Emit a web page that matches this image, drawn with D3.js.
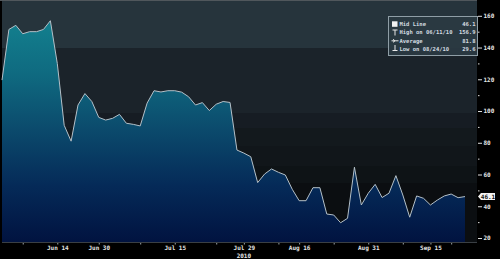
<!DOCTYPE html>
<head>
  <meta charset="utf-8" />
  <title>Mid line chart</title>
  <style>
    body { margin: 0; background: #000; }
    svg { display: block; }
    text { font-family: "DejaVu Sans Mono", monospace; font-weight: bold; }
  </style>
</head>
<body>
  <script src="https://cdn.jsdelivr.net/npm/d3@7"></script>
  <script>
    var values = [
      119.5, 151.4, 154, 148.7, 150, 150, 151.4, 156.9, 130, 91,
      81, 103.8, 111, 106, 96, 94.3, 95.4, 97.9, 92.3, 91.6,
      90.6, 105, 112.8, 112, 112.8, 112.8, 111.9, 109, 103.8, 105.3,
      100.3, 104.3, 106, 105.4, 75.4, 73.5, 71.2, 54.9, 60.3, 63.5,
      61.4, 59.7, 50.7, 43.5, 43.5, 51.7, 51.7, 35.1, 34.5, 29.6,
      32.4, 64.6, 40.8, 48.2, 53.8, 45.5, 48.2, 59.3, 47.1, 33.1,
      46.5, 45, 40.8, 43.9, 46.5, 47.7, 45.4, 46.1
    ];
    // x tick labels and the observation index they sit on
    var dateLabels = ["Jun 14", "Jun 30", "Jul 15", "Jul 29", "Aug 16", "Aug 31", "Sep 15"];
    var dateIndex = [8, 14, 25, 35, 43, 53, 62];
    var minorIndex = [3, 20, 31, 40, 48, 58, 65];
    var yearLabel = "2010";
    var yearIndex = 35;
    var yTicks = [20, 40, 60, 80, 100, 120, 140, 160];
    var yMinor = [30, 50, 70, 90, 110, 130, 150];
    // legend rows
    var legendNames = ["Mid Line", "High on 06/11/10", "Average", "Low on 08/24/10"];
    var legendValues = ["46.1", "156.9", "81.8", "29.6"];

    var W = 500, H = 259;
    // note: "top" is taken by window.top, so use plotTop
    var plotLeft = 2, plotRight = 477, plotTop = 1, plotBottom = 242;

    var svg = d3.select("body").append("svg").attr("width", W).attr("height", H);
    var defs = svg.append("defs");

    var af = defs.append("linearGradient").attr("id", "af")
      .attr("gradientUnits", "userSpaceOnUse")
      .attr("x1", 0).attr("x2", 0).attr("y1", 18).attr("y2", plotBottom);
    af.append("stop").attr("offset", 0).attr("stop-color", "#13818f");
    af.append("stop").attr("offset", 0.25).attr("stop-color", "#0f6a80");
    af.append("stop").attr("offset", 0.5).attr("stop-color", "#0b4a6c");
    af.append("stop").attr("offset", 0.75).attr("stop-color", "#052a58");
    af.append("stop").attr("offset", 1).attr("stop-color", "#011340");

    var x = d3.scaleLinear().domain([0, values.length - 1]).range([2, 465]);
    var y = d3.scaleLinear().domain([20, 160]).range([238, 15.8]);

    // stepped background bands (pixel rows from the plot top)
    var bands = [[0, 47, "#26343c"], [47, 112, "#1b232a"], [112, 127, "#161c23"],
      [127, 145, "#13191d"], [145, 165, "#11161a"], [165, 182, "#0e1316"],
      [182, 241, "#0b0e11"]];
    svg.selectAll("rect.band").data(bands).enter().append("rect")
      .attr("class", "band")
      .attr("x", plotLeft).attr("width", plotRight - plotLeft)
      .attr("y", function (b) { return plotTop + b[0]; })
      .attr("height", function (b) { return b[1] - b[0]; })
      .attr("fill", function (b) { return b[2]; });
    svg.append("line").attr("x1", 0).attr("x2", plotRight).attr("y1", 0.5).attr("y2", 0.5)
      .attr("stroke", "#50575c");

    var area = d3.area().x(function (d, i) { return x(i); })
      .y0(plotBottom).y1(function (d) { return y(d); });
    var line = d3.line().x(function (d, i) { return x(i); }).y(function (d) { return y(d); });

    svg.append("path").datum(values).attr("d", area).attr("fill", "url(#af)");
    svg.append("path").datum(values).attr("d", line).attr("fill", "none")
      .attr("stroke", "#b4c0c8").attr("stroke-width", 1);

    svg.append("line").attr("x1", plotLeft).attr("x2", plotRight)
      .attr("y1", plotBottom + 0.5).attr("y2", plotBottom + 0.5)
      .attr("stroke", "#3a3f44");

    // x axis
    var xAxis = svg.append("g").attr("transform", "translate(0," + (plotBottom + 1) + ")")
      .call(d3.axisBottom(x).tickValues(dateIndex).tickSize(1.5).tickPadding(1)
        .tickFormat(function (d, i) { return dateLabels[i]; }));
    var xMinor = svg.append("g").attr("transform", "translate(0," + (plotBottom + 1) + ")")
      .call(d3.axisBottom(x).tickValues(minorIndex).tickSize(1.5).tickFormat(""));
    [xAxis, xMinor].forEach(function (g) {
      g.select(".domain").remove();
      g.selectAll("line").attr("stroke", "#9aa3a8");
    });
    xAxis.selectAll("text").attr("fill", "#e6e6e6").attr("font-size", 6)
      .attr("font-family", "DejaVu Sans Mono").attr("font-weight", "bold");
    svg.append("text").attr("x", x(yearIndex)).attr("y", 257.5)
      .attr("text-anchor", "middle").attr("fill", "#e6e6e6").attr("font-size", 6)
      .text(yearLabel);

    // y axis on the right
    var yAxis = svg.append("g").attr("transform", "translate(" + (plotRight + 1) + ",0)")
      .call(d3.axisRight(y).tickValues(yTicks).tickSize(4).tickPadding(1.5));
    var yMin = svg.append("g").attr("transform", "translate(" + (plotRight + 1) + ",0)")
      .call(d3.axisRight(y).tickValues(yMinor).tickSize(1.5).tickFormat(""));
    [yAxis, yMin].forEach(function (g) {
      g.select(".domain").remove();
      g.selectAll("line").attr("stroke", "#e0e0e0");
    });
    yAxis.selectAll("text").attr("fill", "#e6e6e6").attr("font-size", 6)
      .attr("font-family", "DejaVu Sans Mono").attr("font-weight", "bold");

    // last value marker
    var last = values[values.length - 1];
    var mk = svg.append("g").attr("transform", "translate(" + (plotRight + 1) + "," + y(last) + ")");
    mk.append("path").attr("d", "M0,0L3,-3.5H17V3.5H3Z").attr("fill", "#f4f4f4");
    mk.append("text").attr("x", 10).attr("y", 2.2).attr("text-anchor", "middle")
      .attr("font-size", 6).attr("fill", "#111").text(d3.format(".1f")(last));

    // legend
    var lg = svg.append("g").attr("transform", "translate(388,16)");
    lg.append("rect").attr("x", 0.5).attr("y", 0.5).attr("width", 89).attr("height", 39)
      .attr("fill", "#2a3942").attr("fill-opacity", 0.92).attr("stroke", "#8f9ea6");
    var rows = lg.selectAll("g.row").data(legendNames).enter().append("g")
      .attr("class", "row").attr("transform", function (d, i) { return "translate(0," + (8.3 + i * 8.1) + ")"; });
    rows.append("text").attr("x", 11.5).attr("y", 2).attr("font-size", 5.5)
      .attr("fill", "#d4dce0").text(function (d) { return d; });
    rows.append("text").attr("x", 87.5).attr("y", 2).attr("text-anchor", "end").attr("font-size", 5.5)
      .attr("fill", "#d4dce0").text(function (d, i) { return legendValues[i]; });
    var icon = lg.append("g").attr("stroke", "#e8e8e8").attr("fill", "none");
    lg.append("rect").attr("x", 4).attr("y", 5.3).attr("width", 5.5).attr("height", 5.5).attr("fill", "#f2f2f2");
    icon.append("path").attr("d", "M4.5,14H9.5M7,14V19.5");
    icon.append("path").attr("d", "M3.5,24.8H10.5M5,23.3L7,24.8L5,26.3");
    icon.append("path").attr("d", "M7,29V34.5M4.5,34.5H9.5");
  </script>
</body>
